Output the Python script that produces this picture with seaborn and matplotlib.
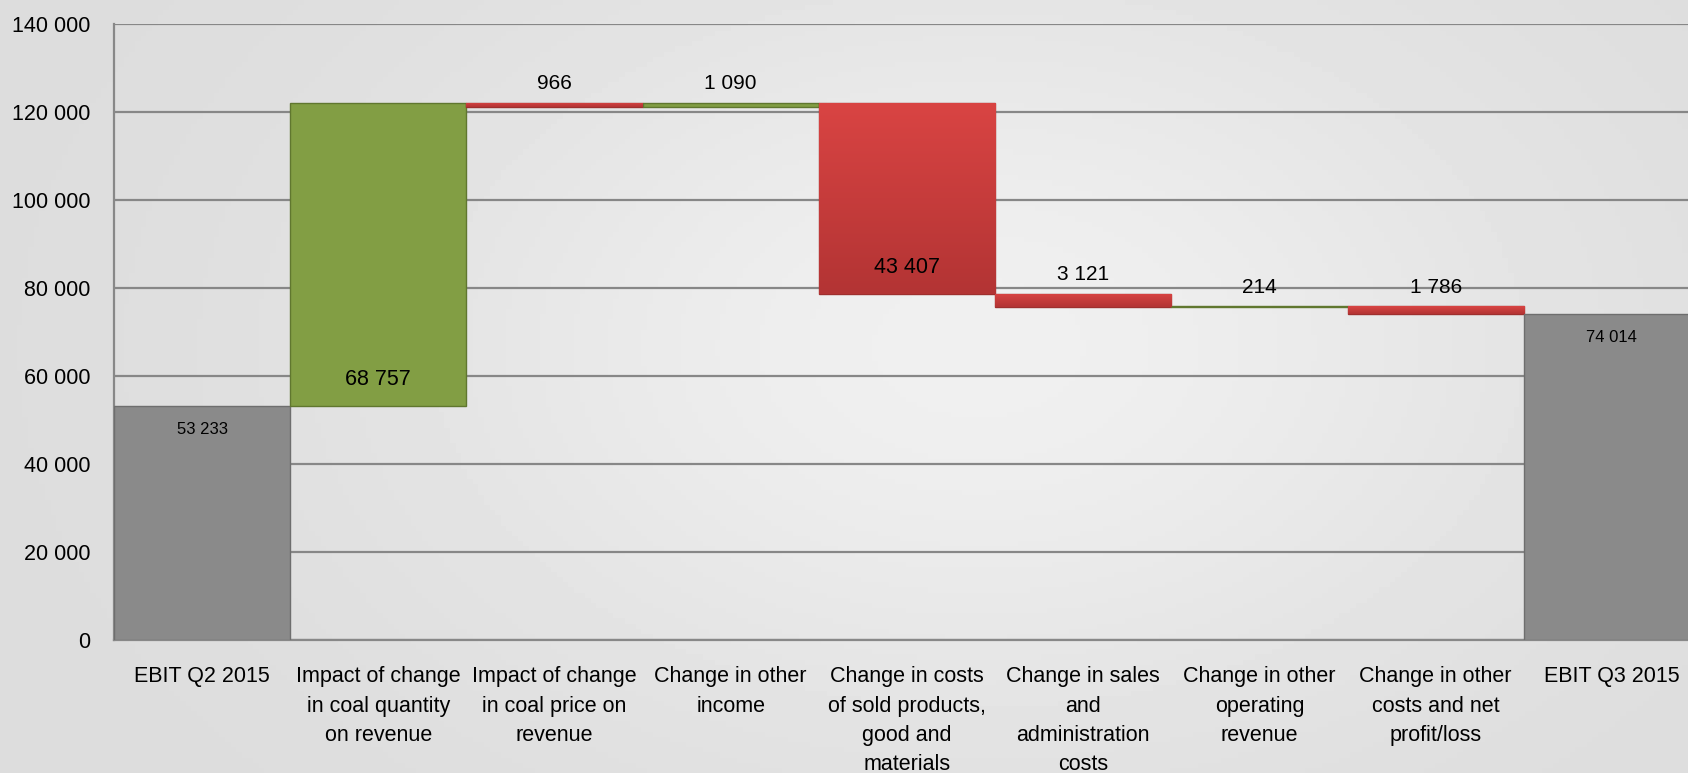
import numpy as np
import pandas as pd
import seaborn as sns
import matplotlib.pyplot as plt
from matplotlib.ticker import FuncFormatter
from matplotlib.colors import LinearSegmentedColormap

# Waterfall data (EBIT bridge Q2 -> Q3 2015)
categories = [
    "EBIT Q2 2015",
    "Impact of change\nin coal quantity\non revenue",
    "Impact of change\nin coal price on\nrevenue",
    "Change in other\nincome",
    "Change in costs\nof sold products,\ngood and\nmaterials",
    "Change in sales\nand\nadministration\ncosts",
    "Change in other\noperating\nrevenue",
    "Change in other\ncosts and net\nprofit/loss",
    "EBIT Q3 2015",
]
changes = [53233, 68757, -966, 1090, -43407, -3121, 214, -1786, 74014]
is_total = [True, False, False, False, False, False, False, False, True]

# Compute bar bottoms / heights
bottoms, heights = [], []
running = 0
for val, tot in zip(changes, is_total):
    if tot:
        bottoms.append(0)
        heights.append(val)
        running = val
    elif val >= 0:
        bottoms.append(running)
        heights.append(val)
        running += val
    else:
        running += val
        bottoms.append(running)
        heights.append(-val)

df = pd.DataFrame({"category": categories, "height": heights})

sns.set_style("white")
plt.rcParams['font.family'] = ['Liberation Sans', 'DejaVu Sans']
plt.rcParams['text.color'] = 'black'
plt.rcParams['xtick.color'] = 'black'
plt.rcParams['ytick.color'] = 'black'

fig = plt.figure(figsize=(16.88, 7.73), dpi=100)

# Soft gray gradient background
bg = fig.add_axes([0, 0, 1, 1], zorder=-10)
gx, gy = np.meshgrid(np.linspace(0, 1, 300), np.linspace(0, 1, 150))
grad = 0.862 + 0.078 * np.exp(-((gx - 0.58) ** 2) / 0.12 - ((gy - 0.45) ** 2) / 0.25)
bg.imshow(grad, cmap="gray", vmin=0, vmax=1, aspect="auto", extent=[0, 1, 0, 1])
bg.axis("off")

ax = fig.add_axes([0.0675, 0.172, 0.9396, 0.797])
ax.patch.set_alpha(0)

sns.barplot(data=df, x="category", y="height", bottom=np.array(bottoms),
            width=1.0, ax=ax, color="#888888", zorder=3)

green, red, gray = "#829e44", "#d24140", "#8a8a8a"
red_grad = LinearSegmentedColormap.from_list("redgrad", ["#b33434", "#d94443"])
for patch, val, tot in zip(ax.patches, changes, is_total):
    if tot:
        fc, ec = gray, "#6e6e6e"
    elif val >= 0:
        fc, ec = green, "#60772f"
    else:
        fc, ec = red, "#9e2f2e"
    patch.set_facecolor(fc)
    patch.set_edgecolor(ec)
    patch.set_linewidth(1.0)
    if not tot and val < 0:
        # vertical shading for the cost bars
        x0, y0 = patch.get_x(), patch.get_y()
        w, h = patch.get_width(), patch.get_height()
        im = ax.imshow(np.linspace(0, 1, 100).reshape(-1, 1), cmap=red_grad,
                       origin="lower", aspect="auto",
                       extent=[x0, x0 + w, y0, y0 + h], zorder=3.5)
        im.set_clip_path(patch)

# Value labels
for i, (val, tot) in enumerate(zip(changes, is_total)):
    txt = f"{abs(val):,}".replace(",", " ")
    top = bottoms[i] + heights[i]
    if tot:
        ax.annotate(txt, (i, top), xytext=(0, -17), textcoords="offset points",
                    ha="center", va="center", fontsize=12, zorder=5)
    elif heights[i] > 10000:
        ax.annotate(txt, (i, bottoms[i]), xytext=(0, 19), textcoords="offset points",
                    ha="center", va="center", fontsize=15.5, zorder=5)
    else:
        ax.annotate(txt, (i, top), xytext=(0, 14), textcoords="offset points",
                    ha="center", va="center", fontsize=15, zorder=5)

ax.set_ylim(0, 140000)
ax.set_xlim(-0.5, len(categories) - 0.5)
ax.set_yticks(np.arange(0, 140001, 20000))
ax.yaxis.set_major_formatter(FuncFormatter(lambda v, p: f"{int(v):,}".replace(",", " ")))
ax.grid(axis="y", color="#878787", linewidth=1.6)
ax.set_axisbelow(True)

ax.set_xlabel("")
ax.set_ylabel("")
ax.tick_params(axis="y", length=0, pad=17, labelsize=15.5)
ax.tick_params(axis="x", which="major", length=0, pad=19, labelsize=15.5)
ax.set_xticks(np.arange(-0.5, len(categories), 1), minor=True)
ax.tick_params(axis="x", which="minor", length=6, color="#909090", width=1.2)
for lbl in ax.get_xticklabels():
    lbl.set_linespacing(1.52)

for side in ["top", "right"]:
    ax.spines[side].set_visible(False)
for side in ["left", "bottom"]:
    ax.spines[side].set_color("#888888")
    ax.spines[side].set_linewidth(1.6)

plt.savefig("out.png", dpi=100)
